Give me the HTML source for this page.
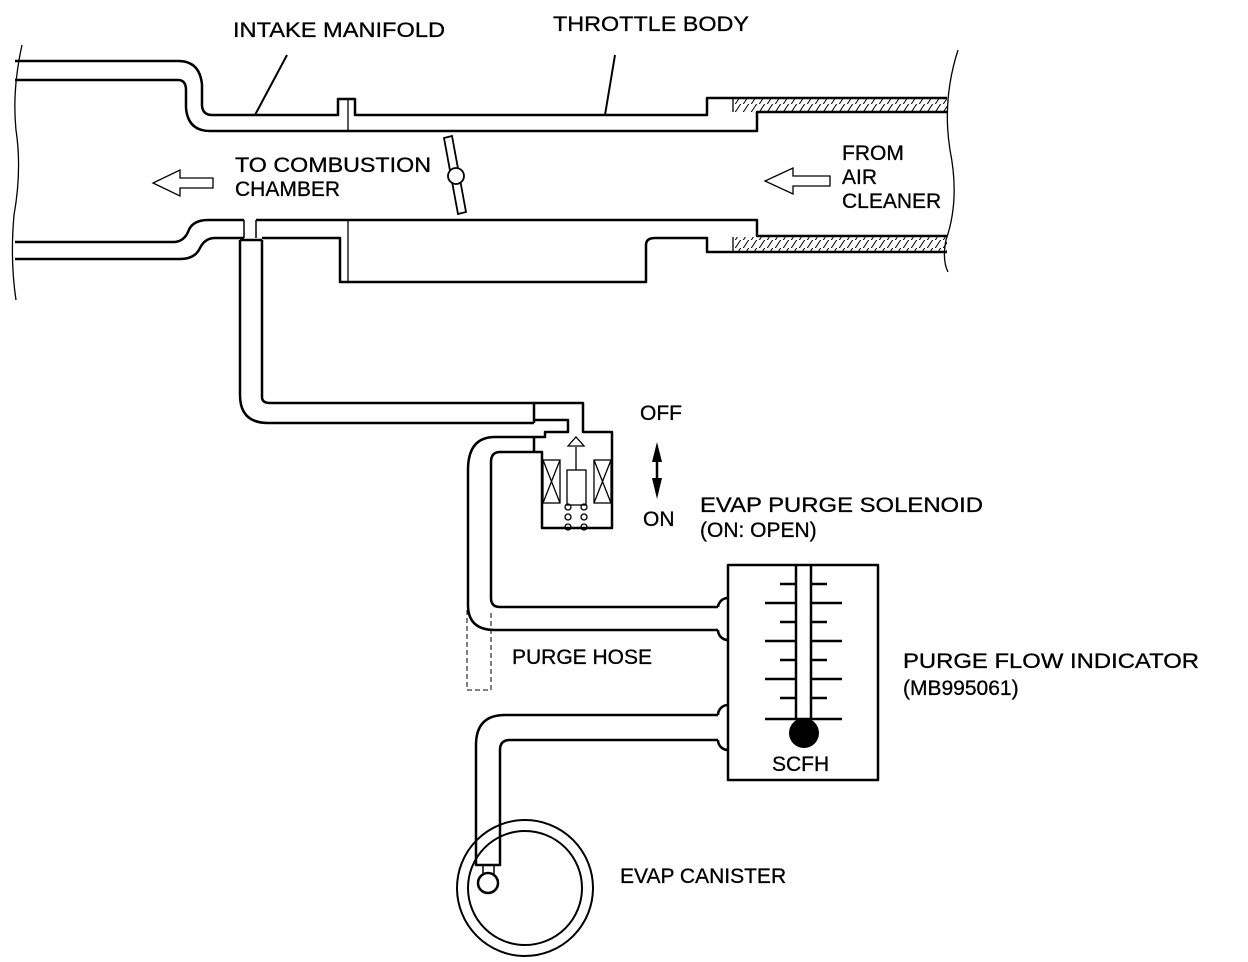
<!DOCTYPE html>
<html><head><meta charset="utf-8"><style>
html,body{margin:0;padding:0;background:#fff;}
svg{display:block}
text{font-family:"Liberation Sans",Arial,sans-serif;font-size:21px;fill:#000;stroke:#000;stroke-width:0.3}
</style></head><body>
<svg width="1248" height="962" viewBox="0 0 1248 962" xmlns="http://www.w3.org/2000/svg">
<defs>
<pattern id="h" width="8" height="8" patternUnits="userSpaceOnUse">
<path d="M-2,10 L6,-2 M6,10 L14,-2" stroke="#000" stroke-width="1"/>
</pattern>
</defs>
<g fill="none" stroke="#000" stroke-width="2.5" stroke-linejoin="round">
<path d="M15,61 H178 Q200,61 202,85 V106 Q203,115 212,115 H338 V99 H355 V115 H707 V98 H947"/>
<path d="M15,80 H178 Q186,80 186,90 V108 Q188,131 210,131 H757 V112 H947"/>
<path d="M244,220 H208 Q192,220 188,232 Q184,241 175,242 H15"/>
<path d="M256,220 H757 V236 H947"/>
<path d="M15,259 H180 Q195,259 200,248 Q205,238 215,238 H244"/>
<path d="M262,238 H340 V282 H646 V245 Q646,238 655,238 H707 V252 H947"/>
<path d="M244,220 V238 M256,220 V238" stroke-width="1.5"/>
<path d="M240,240 H262"/>
<path d="M240,240 V395 Q240,423 268,423 H534"/>
<path d="M262,240 V397 Q262,403 270,403 H534"/>
<path d="M534,403 H583 V432 H612 V528 H542 V452 H534"/>
<path d="M534,420 H568 V432 H545 V437 H534"/>
<path d="M534,403 V423 M534,437 V452"/>
<path d="M534,437 H495 Q468,437 468,470 V605 Q468,630 495,630 H718"/>
<path d="M534,452 H500 Q491,452 491,462 V598 Q491,607 500,607 H718"/>
<path d="M467,610 V690 H491 V610" stroke-width="1" stroke-dasharray="5,3"/>
<rect x="728" y="565" width="150" height="215"/>
<path d="M728,598 A10,10 0 0 0 718,607 M718,630 A10,10 0 0 0 728,640"/>
<path d="M728,705 A10,10 0 0 0 718,715 M718,740 A10,10 0 0 0 728,750"/>
<path d="M796,565 V720 M811,565 V720"/>
<path d="M718,715 H505 Q476,715 476,745 V865 H500 V750 Q500,740 510,740 H718"/>
<circle cx="488" cy="883" r="10"/>
<path d="M483,865 V874 M494,865 V874" stroke-width="1.5"/>
<circle cx="525" cy="888" r="68" stroke-width="2"/>
<circle cx="525" cy="888" r="57" stroke-width="2"/>
</g>
<rect x="733" y="99" width="214" height="13" fill="url(#h)"/>
<rect x="733" y="237" width="214" height="14" fill="url(#h)"/>
<g fill="none" stroke="#000" stroke-width="1.3">
<path d="M733,99 V112 M733,237 V252"/>
<path d="M22,45 Q12,90 16,130 Q22,170 14,215 Q10,260 16,300"/>
<path d="M958,50 Q942,100 950,150 Q960,200 946,240 Q942,260 948,272"/>
<path d="M348,99 V131 M348,220 V282"/>
<path d="M287,55 L255,115 M615,55 L605,115" stroke-width="2"/>
<path d="M213,178 H180 V170 L153,183 L180,196 V188 H213 Z"/>
<path d="M830,176 H793 V168 L765,181 L793,194 V186 H830 Z"/>
<path d="M444,138 L452,136 L466,212 L458,214 Z" fill="#fff" stroke-width="1.8"/>
<circle cx="456" cy="176" r="8" fill="#fff" stroke-width="1.8"/>
<rect x="543" y="460" width="17" height="43"/><path d="M543,460 L560,503 M560,460 L543,503"/>
<rect x="594" y="460" width="17" height="43"/><path d="M594,460 L611,503 M611,460 L594,503"/>
<rect x="567" y="470" width="19" height="35"/>
<path d="M576,447 V470"/>
<path d="M568,446 L576,437 L584,446 Z"/>
<circle cx="568" cy="507" r="3"/><circle cx="584" cy="507" r="3"/>
<circle cx="568" cy="517" r="3"/><circle cx="584" cy="517" r="3"/>
<circle cx="568" cy="527" r="3"/><circle cx="584" cy="527" r="3"/>
</g>
<path d="M657,452 V488" stroke="#000" stroke-width="2.5"/>
<path d="M652,462 L657,442 L662,462 Z M652,478 L657,499 L662,478 Z" fill="#000"/>
<g stroke="#000" stroke-width="2.5">
<path d="M780,584 H796 M811,584 H827"/>
<path d="M765,603 H796 M811,603 H842"/>
<path d="M780,622 H796 M811,622 H827"/>
<path d="M765,641 H796 M811,641 H842"/>
<path d="M780,660 H796 M811,660 H827"/>
<path d="M765,679 H796 M811,679 H842"/>
<path d="M780,698 H796 M811,698 H827"/>
<path d="M765,719 H842"/>
</g>
<circle cx="804" cy="733" r="15" fill="#000"/>
<text x="233" y="37" textLength="212" lengthAdjust="spacingAndGlyphs">INTAKE MANIFOLD</text>
<text x="553" y="31" textLength="196" lengthAdjust="spacingAndGlyphs">THROTTLE BODY</text>
<text x="235" y="172" textLength="196" lengthAdjust="spacingAndGlyphs">TO COMBUSTION</text>
<text x="235" y="196">CHAMBER</text>
<text x="842" y="160">FROM</text>
<text x="842" y="184">AIR</text>
<text x="842" y="208">CLEANER</text>
<text x="640" y="420">OFF</text>
<text x="643" y="526">ON</text>
<text x="700" y="512" textLength="283" lengthAdjust="spacingAndGlyphs">EVAP PURGE SOLENOID</text>
<text x="700" y="537">(ON: OPEN)</text>
<text x="512" y="664">PURGE HOSE</text>
<text x="903" y="668" textLength="296" lengthAdjust="spacingAndGlyphs">PURGE FLOW INDICATOR</text>
<text x="903" y="695">(MB995061)</text>
<text x="772" y="771">SCFH</text>
<text x="620" y="883">EVAP CANISTER</text>
</svg>
</body></html>
